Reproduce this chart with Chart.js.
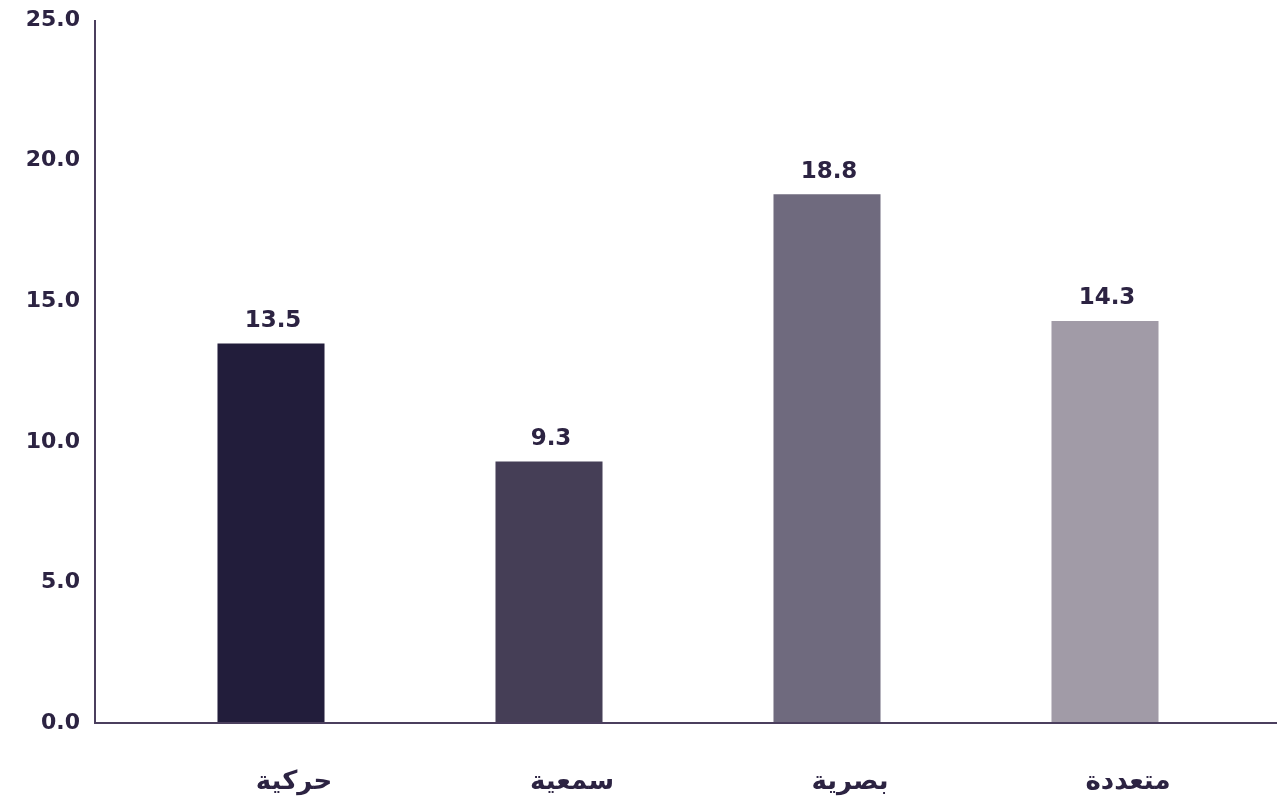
<!DOCTYPE html>
<html>
<head>
<meta charset="utf-8">
<script src="https://cdn.jsdelivr.net/npm/chart.js@4/dist/chart.umd.min.js"></script>
<style>
  html, body { margin: 0; padding: 0; background: #fff; }
  #wrap { width: 1277px; height: 798px; position: relative; }
</style>
</head>
<body>
<div id="wrap"><canvas id="barChart"></canvas></div>
<script>
// data
const categories = ['حركية', 'سمعية', 'بصرية', 'متعددة'];
const values = [13.5, 9.3, 18.8, 14.3];
const barColors = ['#221d3b', '#453e56', '#6f6a7e', '#a19ba7'];
const yTicks = [0, 5, 10, 15, 20, 25];

const textColor = '#2c2342';
const axisColor = '#4b3f5e';

// value labels above bars
const valueLabels = {
    id: 'valueLabels',
    afterDatasetsDraw(chart) {
        const ctx = chart.ctx;
        const meta = chart.getDatasetMeta(0);
        ctx.save();
        ctx.font = 'bold 23px "DejaVu Sans"';
        ctx.fillStyle = textColor;
        ctx.textAlign = 'center';
        ctx.textBaseline = 'bottom';
        meta.data.forEach(function(bar, i) {
            ctx.fillText(values[i].toFixed(1), bar.x + 2, bar.y - 11);
        });
        ctx.restore();
    }
};

// axis lines (run past the category area, like the original)
const axisLines = {
    id: 'axisLines',
    afterDraw(chart) {
        const ctx = chart.ctx;
        const area = chart.chartArea;
        const x0 = 95;
        ctx.save();
        ctx.strokeStyle = axisColor;
        ctx.lineWidth = 2;
        ctx.beginPath();
        ctx.moveTo(x0, area.top);
        ctx.lineTo(x0, area.bottom);
        ctx.lineTo(chart.width, area.bottom);
        ctx.stroke();
        ctx.restore();
    }
};

new Chart(document.getElementById('barChart'), {
    type: 'bar',
    data: {
        labels: categories,
        datasets: [{
            data: values,
            backgroundColor: barColors,
            borderWidth: 0,
            categoryPercentage: 1,
            barPercentage: 0.385
        }]
    },
    options: {
        responsive: true,
        maintainAspectRatio: false,
        animation: false,
        layout: {
            padding: { top: 20, right: 33, bottom: 0, left: 0 }
        },
        plugins: {
            legend: { display: false },
            tooltip: { enabled: false }
        },
        scales: {
            x: {
                grid: { display: false, drawTicks: false },
                border: { display: false },
                ticks: {
                    color: textColor,
                    font: { family: 'DejaVu Sans', size: 26, weight: 'bold' },
                    padding: 44,
                    labelOffset: 23
                },
                afterFit: function(scale) { scale.height = 75; }
            },
            y: {
                min: 0,
                max: 25,
                grid: { display: false, drawTicks: false },
                border: { display: false },
                afterBuildTicks: function(scale) {
                    scale.ticks = yTicks.map(function(v) { return { value: v }; });
                },
                ticks: {
                    color: textColor,
                    font: { family: 'DejaVu Sans', size: 22, weight: 'bold' },
                    padding: 52,
                    callback: function(value) { return value.toFixed(1); }
                },
                afterFit: function(scale) {
                    scale.width = 132;
                    scale.paddingTop = 0;
                    scale.paddingBottom = 0;
                }
            }
        }
    },
    plugins: [valueLabels, axisLines]
});
</script>
</body>
</html>
